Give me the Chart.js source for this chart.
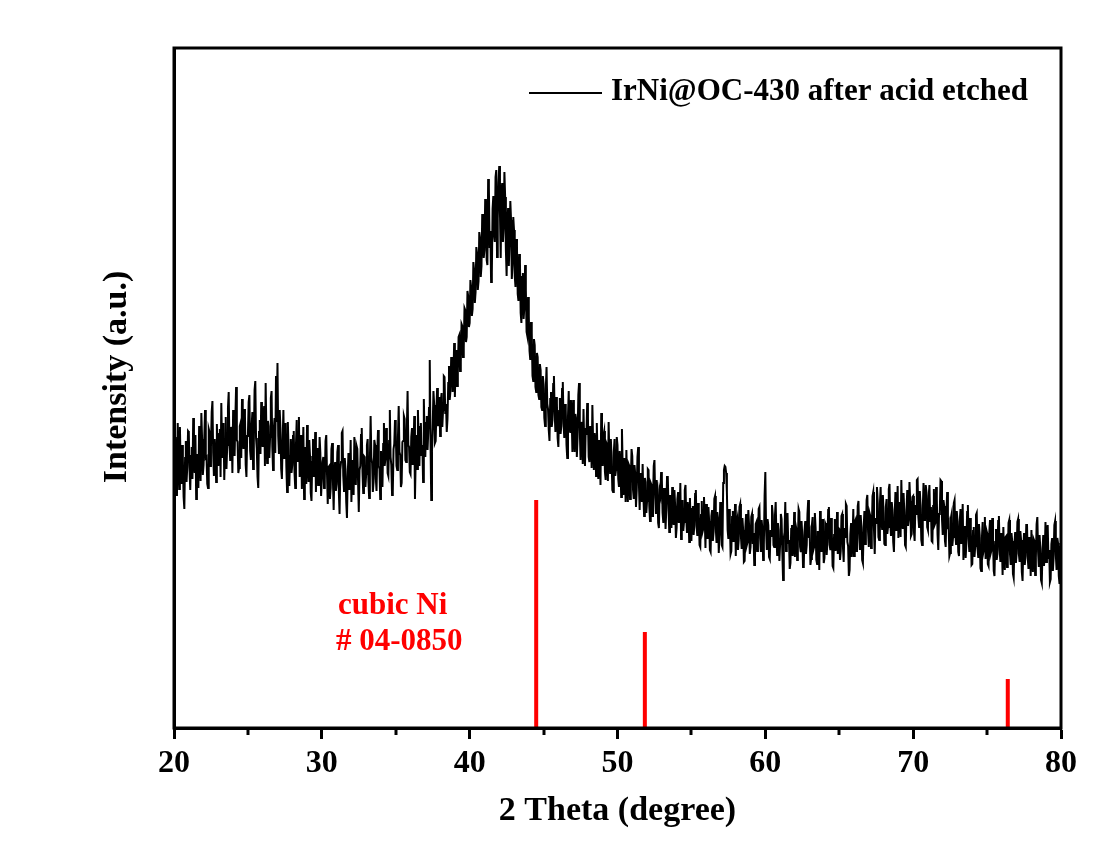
<!DOCTYPE html>
<html>
<head>
<meta charset="utf-8">
<title>XRD pattern</title>
<script src="https://cdn.jsdelivr.net/npm/chart.js@4.4.1/dist/chart.umd.min.js"></script>
<style>
  html, body { margin: 0; padding: 0; background: #ffffff; }
  #wrap { width: 1102px; height: 846px; }
</style>
</head>
<body>
<div id="wrap"><canvas id="xrd" width="1102" height="846"></canvas></div>
<script>
// Scan grid: 2θ from 20° to 80° in 0.05° steps
const thetaStart = 20;
const thetaStep = 0.05;

// Measured intensity (a.u.), one row per degree (n.00 … n.95), last value at 80.00°
const intensity = [
  250, 278, 291, 255, 232, 305, 276, 239, 301, 262, 244, 283, 268, 231, 219, 270, 287, 246, 262, 297,
  296, 258, 238, 272, 281, 249, 310, 266, 255, 293, 229, 261, 274, 240, 302, 279, 247, 315, 289, 253,
  263, 290, 318, 270, 271, 244, 240, 299, 296, 262, 281, 316, 327, 275, 252, 289, 276, 246, 304, 268,
  262, 294, 299, 251, 325, 283, 270, 305, 248, 277, 311, 259, 283, 320, 336, 284, 268, 301, 297, 255,
  318, 281, 272, 309, 341, 288, 286, 255, 260, 302, 305, 270, 329, 296, 279, 319, 312, 263, 251, 292,
  294, 326, 333, 277, 268, 301, 316, 259, 285, 338, 347, 290, 279, 251, 240, 296, 308, 274, 326, 287,
  281, 313, 322, 262, 345, 296, 265, 307, 302, 270, 291, 330, 337, 281, 258, 299, 310, 275, 352, 306,
  365, 292, 274, 318, 300, 259, 249, 287, 318, 270, 283, 305, 261, 236, 306, 280, 242, 272, 289, 255,
  263, 292, 297, 256, 240, 283, 308, 266, 282, 311, 251, 274, 293, 239, 268, 301, 229, 260, 281, 244,
  303, 269, 246, 288, 272, 235, 227, 266, 289, 251, 258, 296, 236, 270, 280, 243, 253, 291, 275, 232,
  232, 266, 271, 240, 248, 287, 293, 254, 224, 261, 262, 229, 240, 279, 285, 247, 218, 256, 266, 237,
  244, 276, 283, 236, 214, 258, 266, 295, 297, 252, 237, 270, 259, 226, 210, 251, 275, 239, 249, 288,
  226, 261, 268, 233, 291, 254, 243, 282, 279, 247, 216, 258, 262, 293, 300, 256, 235, 272, 271, 241,
  254, 283, 289, 247, 230, 266, 312, 271, 265, 236, 246, 288, 283, 250, 237, 275, 298, 262, 259, 229,
  277, 249, 241, 284, 305, 262, 269, 300, 290, 255, 252, 287, 318, 271, 263, 233, 236, 279, 284, 308,
  296, 262, 258, 291, 322, 276, 273, 241, 245, 286, 287, 312, 309, 268, 266, 298, 337, 283, 281, 256,
  254, 291, 300, 263, 276, 312, 229, 270, 293, 259, 318, 284, 262, 301, 305, 272, 283, 246, 329, 290,
  271, 305, 312, 278, 296, 320, 368, 289, 228, 276, 301, 337, 323, 285, 287, 318, 340, 302, 306, 331,
  292, 327, 335, 301, 318, 352, 351, 314, 324, 296, 309, 345, 362, 328, 337, 370, 371, 336, 349, 385,
  331, 368, 378, 342, 355, 391, 393, 357, 366, 404, 402, 371, 380, 420, 418, 386, 391, 437, 432, 401,
  405, 448, 441, 412, 419, 466, 458, 425, 436, 481, 475, 438, 447, 496, 490, 451, 462, 514, 505, 470,
  478, 529, 521, 468, 463, 549, 540, 480, 497, 446, 455, 519, 532, 493, 486, 551, 558, 471, 509, 545,
  562, 514, 470, 537, 545, 486, 501, 556, 531, 478, 452, 503, 520, 462, 489, 527, 508, 449, 463, 511,
  498, 452, 441, 489, 480, 434, 427, 474, 466, 415, 405, 451, 455, 409, 421, 463, 438, 396, 392, 431,
  412, 377, 368, 406, 395, 352, 347, 389, 383, 341, 336, 375, 371, 333, 329, 364, 358, 321, 318, 352,
  344, 310, 302, 339, 361, 324, 319, 298, 287, 329, 336, 301, 308, 344, 352, 315, 296, 331, 325, 290,
  281, 317, 330, 294, 302, 339, 346, 305, 290, 324, 318, 283, 270, 311, 337, 299, 296, 328, 312, 276,
  328, 290, 276, 314, 309, 271, 291, 333, 345, 298, 268, 306, 301, 264, 319, 284, 262, 300, 293, 325,
  310, 271, 266, 302, 296, 260, 323, 287, 258, 295, 287, 252, 305, 274, 249, 288, 279, 243, 315, 283,
  262, 293, 297, 256, 248, 285, 283, 247, 306, 270, 255, 289, 271, 238, 236, 276, 289, 252, 258, 291,
  283, 249, 241, 277, 265, 231, 299, 262, 233, 270, 258, 226, 278, 247, 226, 264, 262, 229, 244, 279,
  272, 238, 229, 263, 254, 221, 238, 271, 281, 243, 218, 255, 249, 226, 264, 232, 212, 250, 246, 215,
  227, 259, 258, 222, 207, 245, 243, 212, 226, 262, 268, 230, 214, 248, 239, 205, 200, 237, 233, 256,
  249, 215, 205, 240, 231, 199, 218, 251, 252, 221, 196, 233, 227, 200, 241, 212, 203, 238, 222, 190,
  200, 229, 236, 205, 211, 245, 189, 220, 228, 197, 206, 238, 243, 210, 195, 226, 217, 186, 230, 203,
  187, 219, 222, 193, 203, 234, 238, 201, 192, 225, 215, 183, 181, 213, 227, 196, 199, 231, 211, 180,
  224, 195, 189, 221, 207, 178, 176, 212, 218, 187, 196, 229, 232, 199, 185, 216, 209, 175, 194, 226,
  214, 183, 181, 245, 258, 262, 261, 255, 236, 198, 189, 219, 205, 174, 177, 211, 217, 186, 193, 224,
  172, 205, 209, 178, 188, 221, 224, 191, 179, 210, 198, 166, 167, 201, 214, 183, 186, 218, 203, 174,
  181, 211, 214, 184, 195, 163, 170, 204, 206, 177, 188, 219, 221, 189, 176, 208, 199, 168, 183, 232,
  256, 199, 178, 209, 203, 171, 169, 198, 192, 223, 214, 183, 181, 212, 226, 193, 173, 205, 198, 167,
  184, 214, 209, 175, 148, 190, 196, 226, 177, 202, 215, 185, 188, 159, 165, 199, 203, 172, 182, 216,
  171, 203, 199, 168, 185, 219, 216, 181, 176, 207, 193, 161, 162, 197, 207, 174, 183, 214, 228, 190,
  194, 163, 169, 203, 211, 178, 181, 215, 200, 168, 164, 197, 189, 158, 217, 186, 176, 209, 196, 165,
  170, 205, 203, 173, 186, 218, 221, 183, 178, 210, 195, 162, 160, 193, 209, 177, 184, 216, 174, 200,
  199, 168, 177, 212, 214, 181, 166, 200, 191, 224, 222, 186, 182, 152, 158, 194, 205, 171, 188, 219,
  172, 206, 208, 177, 189, 222, 227, 190, 178, 213, 201, 168, 165, 199, 217, 184, 194, 228, 233, 196,
  181, 215, 212, 180, 196, 232, 236, 198, 174, 210, 205, 241, 227, 191, 188, 224, 241, 206, 199, 233,
  215, 184, 183, 221, 229, 194, 201, 239, 244, 207, 192, 226, 218, 186, 176, 213, 236, 198, 207, 242,
  190, 225, 226, 191, 248, 212, 199, 235, 217, 183, 181, 218, 238, 202, 209, 246, 227, 192, 194, 231,
  232, 197, 187, 223, 214, 248, 249, 211, 201, 237, 223, 188, 183, 219, 245, 208, 210, 243, 236, 201,
  198, 232, 243, 207, 221, 187, 186, 222, 239, 203, 205, 241, 229, 193, 178, 214, 216, 248, 247, 209,
  193, 228, 222, 187, 181, 216, 236, 199, 203, 172, 175, 210, 214, 182, 191, 225, 228, 194, 184, 217,
  207, 176, 172, 206, 219, 185, 190, 224, 168, 199, 202, 170, 185, 216, 223, 189, 176, 210, 196, 163,
  164, 197, 201, 171, 182, 213, 215, 180, 171, 204, 193, 160, 157, 190, 206, 176, 180, 211, 169, 198,
  195, 164, 162, 196, 208, 175, 178, 210, 189, 157, 152, 186, 199, 168, 174, 207, 212, 178, 166, 195,
  184, 153, 201, 170, 158, 191, 192, 161, 171, 205, 208, 174, 163, 195, 187, 154, 150, 183, 196, 165,
  175, 206, 209, 174, 166, 197, 188, 156, 147, 180, 195, 163, 172, 203, 204, 170, 159, 191, 183, 152,
  198, 166, 156, 189, 187, 153, 170, 204, 211, 176, 161, 193, 180, 148, 145, 178, 193, 162, 174, 206,
  166, 197, 203, 169, 178, 146, 149, 184, 190, 157, 170, 203, 207, 173, 158, 190, 185, 152, 144, 178,
  176
];

// Reference pattern: cubic Ni, PDF # 04-0850
const niPositions = [44.5, 51.85, 76.4];
const niHeights = [228, 96, 49];

// Axis ticks
const majorTicks = [20, 30, 40, 50, 60, 70, 80];
const minorTicks = [25, 35, 45, 55, 65, 75];

const sampleLabel = 'IrNi@OC-430 after acid etched';
const refLines = ['cubic Ni', '# 04-0850'];

const serif = "'Liberation Serif', 'Times New Roman', serif";

const scanPoints = intensity.map((v, i) => ({ x: +(thetaStart + i * thetaStep).toFixed(2), y: v }));
const stickPoints = [];
niPositions.forEach((p, i) => {
  stickPoints.push({ x: p, y: 0 }, { x: p, y: niHeights[i] }, { x: p, y: null });
});

const decor = {
  id: 'decor',
  afterDraw(chart) {
    const { ctx, chartArea: a, scales: { x } } = chart;
    ctx.save();
    // plot frame
    ctx.strokeStyle = '#000';
    ctx.lineWidth = 3;
    ctx.strokeRect(a.left, a.top, a.right - a.left, a.bottom - a.top);
    // minor ticks on the 2θ axis
    minorTicks.forEach(v => {
      const px = Math.round(x.getPixelForValue(v));
      ctx.beginPath();
      ctx.moveTo(px, a.bottom);
      ctx.lineTo(px, a.bottom + 7);
      ctx.stroke();
    });
    // y-axis title
    ctx.fillStyle = '#000';
    ctx.font = 'bold 34px ' + serif;
    ctx.textAlign = 'center';
    ctx.textBaseline = 'middle';
    ctx.translate(117, 377);
    ctx.rotate(-Math.PI / 2);
    ctx.fillText('Intensity (a.u.)', 0, 0);
    ctx.setTransform(1, 0, 0, 1, 0, 0);
    // legend
    ctx.strokeStyle = '#000';
    ctx.lineWidth = 2;
    ctx.beginPath();
    ctx.moveTo(529, 93);
    ctx.lineTo(602, 93);
    ctx.stroke();
    ctx.font = 'bold 31px ' + serif;
    ctx.textAlign = 'left';
    ctx.textBaseline = 'middle';
    ctx.fillText(sampleLabel, 611, 92);
    // reference-card label
    ctx.fillStyle = '#ff0000';
    ctx.fillText(refLines[0], 338, 606);
    ctx.fillText(refLines[1], 336, 642);
    ctx.restore();
  }
};

new Chart(document.getElementById('xrd'), {
  type: 'line',
  data: {
    datasets: [
      {
        label: sampleLabel,
        data: scanPoints,
        borderColor: '#000000',
        borderWidth: 2,
        pointRadius: 0,
        tension: 0,
        order: 2
      },
      {
        label: 'cubic Ni # 04-0850',
        data: stickPoints,
        borderColor: '#ff0000',
        borderWidth: 4,
        borderCapStyle: 'butt',
        pointRadius: 0,
        spanGaps: false,
        order: 1
      }
    ]
  },
  options: {
    responsive: false,
    animation: false,
    devicePixelRatio: 1,
    layout: { padding: { left: 0, right: 41, top: 48, bottom: 0 } },
    plugins: {
      legend: { display: false },
      tooltip: { enabled: false }
    },
    scales: {
      x: {
        type: 'linear',
        min: 20,
        max: 80,
        afterBuildTicks: s => { s.ticks = majorTicks.map(v => ({ value: v })); },
        afterFit: s => { s.height = 118; },
        border: { display: true, color: '#000', width: 3 },
        grid: { drawOnChartArea: false, drawTicks: true, tickLength: 11, tickWidth: 3, tickColor: '#000' },
        ticks: {
          color: '#000',
          padding: 6,
          font: { family: serif, size: 32, weight: 'bold' }
        },
        title: {
          display: true,
          text: '2 Theta (degree)',
          color: '#000',
          font: { family: serif, size: 34, weight: 'bold' },
          padding: { top: 0, bottom: 14 }
        }
      },
      y: {
        type: 'linear',
        min: 0,
        max: 680,
        afterFit: s => { s.width = 174; },
        border: { display: true, color: '#000', width: 3 },
        grid: { display: false },
        ticks: { display: false },
        title: { display: false }
      }
    }
  },
  plugins: [decor]
});
</script>
</body>
</html>
